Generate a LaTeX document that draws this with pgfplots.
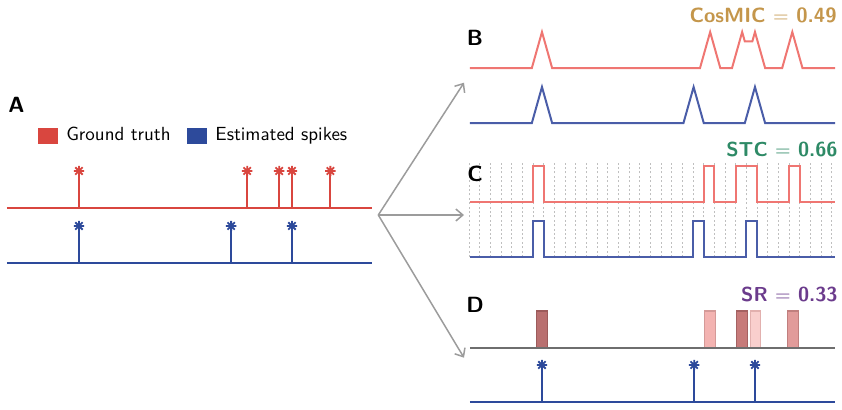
\documentclass[border=0pt]{standalone}
\usepackage{pgfplots}
\pgfplotsset{compat=1.18}
\usetikzlibrary{arrows.meta}
\renewcommand{\familydefault}{\sfdefault}
\definecolor{redA}{HTML}{D9463F}
\definecolor{blueA}{HTML}{2D4A9B}
\definecolor{redB}{HTML}{EF7672}
\definecolor{blueB}{HTML}{4A5DA8}
\definecolor{grayD}{HTML}{6E6E6E}
\definecolor{arrowgray}{HTML}{9C9C9C}
\definecolor{cosmic}{HTML}{C4964B}
\definecolor{stc}{HTML}{2E8A66}
\definecolor{srcol}{HTML}{6B3B8C}
\pgfdeclareplotmark{ast8}{%
  \pgfpathmoveto{\pgfqpoint{0pt}{\pgfplotmarksize}}\pgfpathlineto{\pgfqpoint{0pt}{-\pgfplotmarksize}}%
  \pgfpathmoveto{\pgfqpoint{\pgfplotmarksize}{0pt}}\pgfpathlineto{\pgfqpoint{-\pgfplotmarksize}{0pt}}%
  \pgfpathmoveto{\pgfqpoint{.707\pgfplotmarksize}{.707\pgfplotmarksize}}\pgfpathlineto{\pgfqpoint{-.707\pgfplotmarksize}{-.707\pgfplotmarksize}}%
  \pgfpathmoveto{\pgfqpoint{.707\pgfplotmarksize}{-.707\pgfplotmarksize}}\pgfpathlineto{\pgfqpoint{-.707\pgfplotmarksize}{.707\pgfplotmarksize}}%
  \pgfusepathqstroke}
\pgfplotsset{row/.style={scale only axis, width=183pt, height=18pt,
  xmin=0, xmax=34.3, ymin=0, ymax=1, axis lines=none, clip=false,
  anchor=south west, xtick=\empty, ytick=\empty}}
\begin{document}
\begin{tikzpicture}[x=1pt,y=1pt]
\useasboundingbox (0,0) rectangle (421,204.5);
% ---------- Panel A ----------
\begin{axis}[row, at={(3pt,100.65pt)},
  legend columns=2,
  legend style={at={(0.085,2.0)}, anchor=west, draw=none, fill=none, inner sep=0pt,
    font=\fontsize{9.5}{11}\selectfont,
    /tikz/every odd column/.append style={column sep=2.5pt},
    /tikz/every even column/.append style={column sep=6pt}},
  legend cell align=left]
\addlegendimage{legend image code/.code={\fill[redA] (0pt,-3.75pt) rectangle (9.5pt,3.75pt);}}
\addlegendentry{Ground truth}
\addlegendimage{legend image code/.code={\fill[blueA] (0pt,-3.75pt) rectangle (9.5pt,3.75pt);}}
\addlegendentry{Estimated spikes}
\addplot[redA, line width=1pt] coordinates {(0.09,0) (34.3,0)};
\addplot[redA, line width=1pt, unbounded coords=jump] coordinates {
 (6.84,0) (6.84,1) (6.84,nan) (22.6,0) (22.6,1) (22.6,nan) (25.6,0) (25.6,1) (25.6,nan)
 (26.8,0) (26.8,1) (26.8,nan) (30.4,0) (30.4,1)};
\addplot[redA, only marks, mark=ast8, mark size=2.6pt, mark options={line width=0.9pt}]
 coordinates {(6.84,1.02) (22.6,1.02) (25.6,1.02) (26.8,1.02) (30.4,1.02)};
\end{axis}
\begin{axis}[row, at={(3pt,73.15pt)}]
\addplot[blueA, line width=1pt] coordinates {(0.09,0) (34.3,0)};
\addplot[blueA, line width=1pt, unbounded coords=jump] coordinates {
 (6.84,0) (6.84,1) (6.84,nan) (21.1,0) (21.1,1) (21.1,nan) (26.8,0) (26.8,1)};
\addplot[blueA, only marks, mark=ast8, mark size=2.6pt, mark options={line width=0.9pt}]
 coordinates {(6.84,1.02) (21.1,1.02) (26.8,1.02)};
\end{axis}
% ---------- Panel B ----------
\begin{axis}[row, at={(234.5pt,170.5pt)}]
\addplot[redB, line width=1pt] coordinates {
 (0.09,0) (5.89,0) (6.84,1) (7.79,0) (21.65,0) (22.6,1) (23.55,0) (24.65,0) (25.6,1)
 (25.85,0.737) (26.55,0.737) (26.8,1) (27.75,0) (29.35,0) (30.3,1) (31.25,0) (34.3,0)};
\end{axis}
\begin{axis}[row, at={(234.5pt,143pt)}]
\addplot[blueB, line width=1pt] coordinates {
 (0.09,0) (5.89,0) (6.84,1) (7.79,0) (20.1,0) (21.05,1) (22.0,0) (25.85,0) (26.8,1)
 (27.75,0) (34.3,0)};
\end{axis}
% ---------- Panel C ----------
\begin{axis}[scale only axis, width=183pt, height=47pt, xmin=0, xmax=34.3, ymin=0, ymax=1,
  anchor=south west, at={(234.5pt,76pt)}, axis line style={draw=none},
  xtick={0,1,...,34}, xticklabel style={opacity=0}, ytick=\empty, major tick length=0pt,
  xmajorgrids, grid style={gray!50, line width=0.4pt, dash pattern=on 1pt off 1.2pt}]
\addplot[draw=none] coordinates {(0,0) (34.3,1)};
\end{axis}
\begin{axis}[row, at={(234.5pt,103.65pt)}]
\addplot[redB, line width=1pt] coordinates {
 (0.09,0) (6,0) (6,1) (7,1) (7,0) (22,0) (22,1) (23,1) (23,0) (25,0) (25,1) (27,1) (27,0)
 (30,0) (30,1) (31,1) (31,0) (34.3,0)};
\end{axis}
\begin{axis}[row, at={(234.5pt,76.15pt)}]
\addplot[blueB, line width=1pt] coordinates {
 (0.09,0) (6,0) (6,1) (7,1) (7,0) (21,0) (21,1) (22,1) (22,0) (26,0) (26,1) (27,1) (27,0)
 (34.3,0)};
\end{axis}
% ---------- Panel D ----------
\begin{axis}[row, at={(234.5pt,30.65pt)}]
\addplot[ybar, bar width=1, bar shift=0pt, fill={rgb,255:red,185;green,112;blue,112}, draw={rgb,255:red,156;green,91;blue,91}, line width=0.6pt] coordinates {(6.84,1.02)};
\addplot[ybar, bar width=1, bar shift=0pt, fill={rgb,255:red,243;green,179;blue,177}, draw={rgb,255:red,212;green,154;blue,152}, line width=0.6pt] coordinates {(22.6,1.02)};
\addplot[ybar, bar width=1, bar shift=0pt, fill={rgb,255:red,199;green,123;blue,122}, draw={rgb,255:red,164;green,98;blue,98}, line width=0.6pt] coordinates {(25.6,1.02)};
\addplot[ybar, bar width=1, bar shift=0pt, fill={rgb,255:red,249;green,207;blue,205}, draw={rgb,255:red,226;green,176;blue,174}, line width=0.6pt] coordinates {(26.85,1.02)};
\addplot[ybar, bar width=1, bar shift=0pt, fill={rgb,255:red,225;green,155;blue,154}, draw={rgb,255:red,192;green,127;blue,126}, line width=0.6pt] coordinates {(30.35,1.02)};
\addplot[grayD, line width=1pt] coordinates {(0.09,0) (34.3,0)};
\end{axis}
\begin{axis}[row, at={(234.5pt,3.65pt)}]
\addplot[blueA, line width=1pt] coordinates {(0.09,0) (34.3,0)};
\addplot[blueA, line width=1pt, unbounded coords=jump] coordinates {
 (6.84,0) (6.84,1) (6.84,nan) (21.1,0) (21.1,1) (21.1,nan) (26.8,0) (26.8,1)};
\addplot[blueA, only marks, mark=ast8, mark size=2.6pt, mark options={line width=0.9pt}]
 coordinates {(6.84,1.02) (21.1,1.02) (26.8,1.02)};
\end{axis}
% ---------- arrows ----------
\draw[arrowgray, line width=0.75pt, -{Straight Barb[length=3.5pt,width=6pt]}] (189.15,97) -- (232,163.15);
\draw[arrowgray, line width=0.75pt, -{Straight Barb[length=3.5pt,width=6pt]}] (189.15,97) -- (232,97);
\draw[arrowgray, line width=0.75pt, -{Straight Barb[length=3.5pt,width=6pt]}] (189.15,97) -- (232,25.65);
% ---------- labels ----------
\node[inner sep=0pt, font=\bfseries\fontsize{11}{12}\selectfont] at (8.25,152) {A};
\node[inner sep=0pt, font=\bfseries\fontsize{11}{12}\selectfont] at (237.5,185.35) {B};
\node[inner sep=0pt, font=\bfseries\fontsize{11}{12}\selectfont] at (237.5,117.75) {C};
\node[inner sep=0pt, font=\bfseries\fontsize{11}{12}\selectfont] at (237.5,52) {D};
\node[inner sep=0pt, anchor=east, text=cosmic, font=\bfseries\fontsize{10.3}{12}\selectfont] at (418.5,196.6) {CosMIC $=$ 0.49};
\node[inner sep=0pt, anchor=east, text=stc, font=\bfseries\fontsize{10.1}{12}\selectfont] at (419,129.75) {STC $=$ 0.66};
\node[inner sep=0pt, anchor=east, text=srcol, font=\bfseries\fontsize{10.1}{12}\selectfont] at (419,57.25) {SR $=$ 0.33};
\end{tikzpicture}
\end{document}
